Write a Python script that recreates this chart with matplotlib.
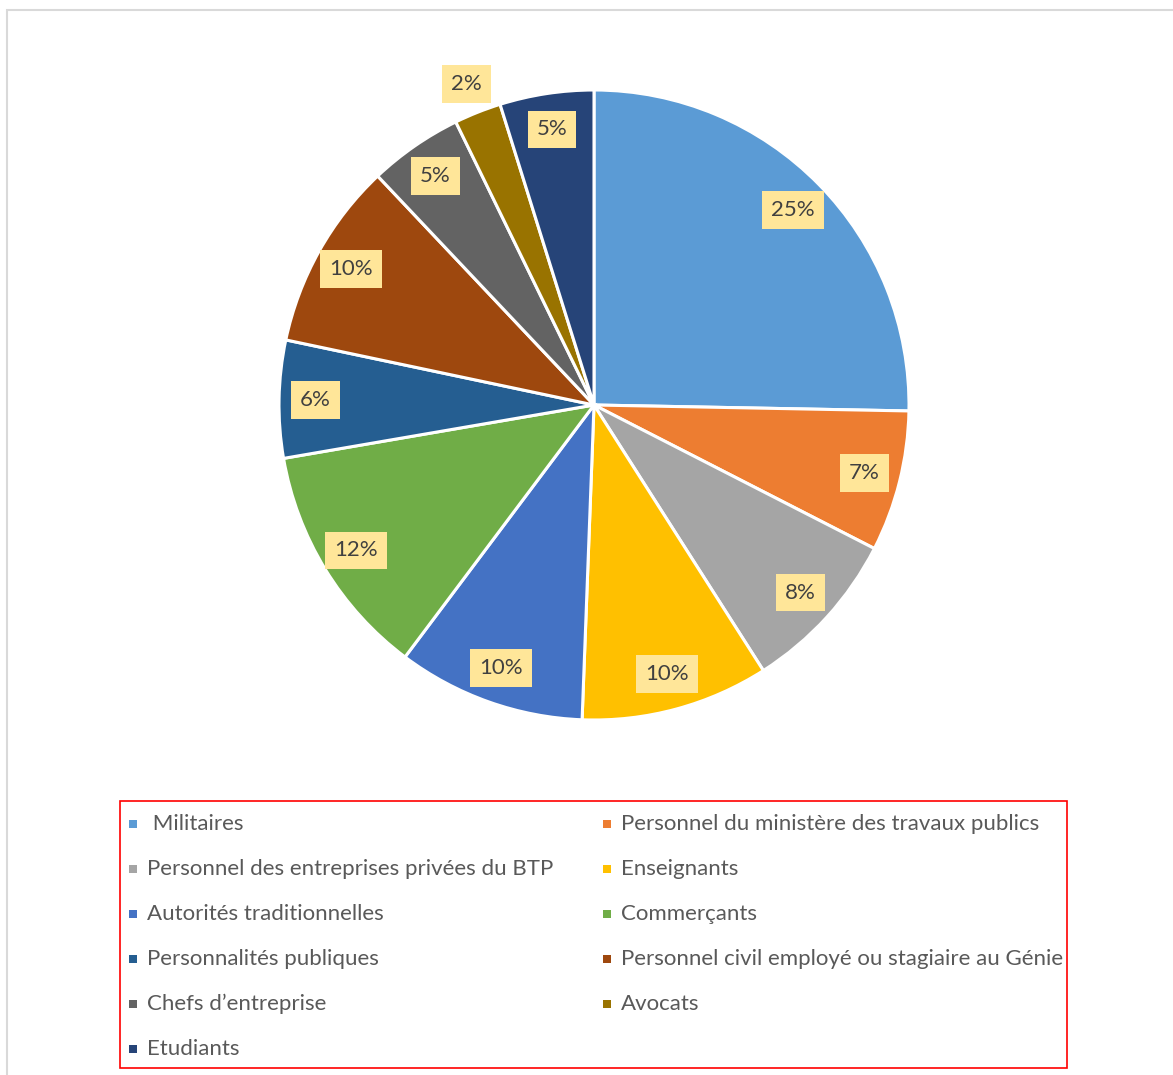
import matplotlib
matplotlib.use("Agg")
import matplotlib.pyplot as plt
from matplotlib.patches import Rectangle

plt.rcParams["font.family"] = ["Lato", "DejaVu Sans"]

# effectifs par catégorie (N = 83)
categories = [
    " Militaires",
    "Personnel du ministère des travaux publics",
    "Personnel des entreprises privées du BTP",
    "Enseignants",
    "Autorités traditionnelles",
    "Commerçants",
    "Personnalités publiques",
    "Personnel civil employé ou stagiaire au Génie",
    "Chefs d\u2019entreprise",
    "Avocats",
    "Etudiants",
]
counts = [21, 6, 7, 8, 8, 10, 5, 8, 4, 2, 4]
colors = ["#5B9BD5", "#ED7D31", "#A5A5A5", "#FFC000", "#4472C4", "#70AD47",
          "#255E91", "#9E480E", "#636363", "#997300", "#264478"]

W, H = 1173, 1075
fig = plt.figure(figsize=(W / 100, H / 100), dpi=100)

# cadre gris clair
fig.patches.append(Rectangle((7 / W, -0.01), 1.0, (H - 10) / H + 0.01,
                             transform=fig.transFigure, fill=False,
                             edgecolor="#D9D9D9", linewidth=1.5))

cx, cy, R = 594, 405, 315
ax = fig.add_axes([(cx - R) / W, (H - cy - R) / H, 2 * R / W, 2 * R / H])
wedges, texts, autotexts = ax.pie(
    counts, colors=colors, startangle=90, counterclock=False,
    autopct="%1.0f%%", pctdistance=0.885, radius=1.0,
    wedgeprops=dict(edgecolor="white", linewidth=2.2),
    textprops=dict(fontsize=16, color="#404040"))
for i, t in enumerate(autotexts):
    if categories[i] == "Avocats":
        x, y = t.get_position()
        t.set_position((x * 1.24, y * 1.24))
    t.set_bbox(dict(boxstyle="square,pad=0.4", facecolor="#FFE699",
                    edgecolor="none"))
ax.set_xlim(-1, 1)
ax.set_ylim(-1, 1)
ax.set_aspect("equal")
ax.axis("off")

# légende en deux colonnes, ordre ligne par ligne
fig.patches.append(Rectangle((120 / W, (H - 1068) / H), (1067 - 120) / W,
                             (1068 - 801) / H, transform=fig.transFigure,
                             fill=False, edgecolor="#FF0000", linewidth=1.2))
for i, (lab, col) in enumerate(zip(categories, colors)):
    row, c = divmod(i, 2)
    x0 = 129 if c == 0 else 603
    y0 = 824 + row * 45
    fig.text((x0 + 18) / W, (H - y0) / H, lab, fontsize=16,
             color="#595959", va="center", ha="left")
    fig.patches.append(Rectangle((x0 / W, (H - y0 - 4) / H), 8 / W, 8 / H,
                                 transform=fig.transFigure, facecolor=col,
                                 edgecolor="none"))

fig.savefig("out.png", dpi=100)
